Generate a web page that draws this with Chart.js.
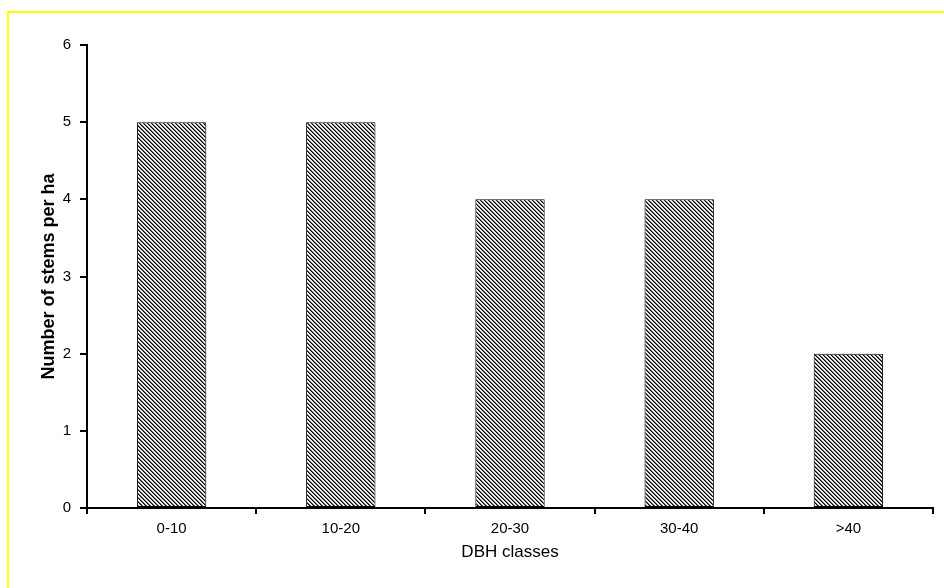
<!DOCTYPE html>
<html>
<head>
<meta charset="utf-8">
<script src="https://cdn.jsdelivr.net/npm/chart.js@4/dist/chart.umd.min.js"></script>
<style>
    html, body { margin: 0; padding: 0; background: #fff; overflow: hidden; }
    #wrap { width: 944px; height: 588px; position: relative; }
</style>
</head>
<body>
<div id="wrap"><canvas id="chart-dbh"></canvas></div>
<script>
// ============================================
// Stem density by DBH class
// ============================================

const dbhClasses = ['0-10', '10-20', '20-30', '30-40', '>40'];
const stemsPerHa = [5, 5, 4, 4, 2];
const yTicks = [0, 1, 2, 3, 4, 5, 6];

/**
 * Small diagonal hatch used as the bar fill
 */
function makeHatch() {
    const tile = document.createElement('canvas');
    tile.width = 4;
    tile.height = 4;
    const g = tile.getContext('2d');
    g.fillStyle = '#ffffff';
    g.fillRect(0, 0, 4, 4);
    for (let y = 0; y < 4; y++) {
        g.fillStyle = '#000000';
        g.fillRect(y % 4, y, 1, 1);
        g.fillStyle = '#6a6a6a';
        g.fillRect((y + 1) % 4, y, 1, 1);
        g.fillStyle = '#d8d8d8';
        g.fillRect((y + 3) % 4, y, 1, 1);
    }
    return g.createPattern(tile, 'repeat');
}

// Yellow frame round the plot (only top/left edges fall inside the page)
const framePlugin = {
    id: 'frame',
    beforeDraw(chart) {
        const ctx = chart.ctx;
        ctx.save();
        ctx.strokeStyle = '#ffff00';
        ctx.lineWidth = 2;
        ctx.strokeRect(8, 12, 1000, 1000);
        ctx.restore();
    }
};

const canvas = document.getElementById('chart-dbh');
const ctx = canvas.getContext('2d');

new Chart(ctx, {
    type: 'bar',
    data: {
        labels: dbhClasses,
        datasets: [{
            label: 'Stems per ha',
            data: stemsPerHa,
            backgroundColor: makeHatch(),
            borderColor: '#000000',
            borderWidth: 1,
            borderSkipped: false,
            categoryPercentage: 1.0,
            barPercentage: 0.41
        }]
    },
    options: {
        responsive: true,
        maintainAspectRatio: false,
        animation: false,
        layout: {
            padding: { top: 45, right: 11, left: 0, bottom: 0 }
        },
        scales: {
            x: {
                grid: {
                    offset: true,
                    drawOnChartArea: false,
                    drawTicks: true,
                    tickLength: 6,
                    tickWidth: 2,
                    tickColor: '#000000',
                    lineWidth: 2,
                    color: '#000000'
                },
                border: { display: true, color: '#000000', width: 2 },
                ticks: {
                    color: '#000000',
                    padding: 6,
                    maxRotation: 0,
                    font: { family: 'Liberation Sans, Arial, sans-serif', size: 15 }
                },
                title: {
                    display: true,
                    text: 'DBH classes',
                    color: '#000000',
                    padding: { top: 0, bottom: 25 },
                    font: { family: 'Liberation Sans, Arial, sans-serif', size: 17 }
                },
                afterFit: scale => { scale.height = 80; }
            },
            y: {
                min: 0,
                max: 6,
                afterBuildTicks: scale => {
                    scale.ticks = yTicks.map(v => ({ value: v }));
                },
                grid: {
                    drawOnChartArea: false,
                    drawTicks: true,
                    tickLength: 7,
                    tickWidth: 2,
                    tickColor: '#000000',
                    lineWidth: 2,
                    color: '#000000'
                },
                border: { display: true, color: '#000000', width: 2 },
                ticks: {
                    color: '#000000',
                    padding: 9,
                    font: { family: 'Liberation Sans, Arial, sans-serif', size: 15 }
                },
                title: {
                    display: true,
                    text: 'Number of stems per ha',
                    color: '#000000',
                    padding: { top: 38, bottom: 0 },
                    font: { family: 'Liberation Sans, Arial, sans-serif', size: 18, weight: 'bold' }
                },
                afterFit: scale => { scale.width = 87; }
            }
        },
        plugins: {
            legend: { display: false },
            tooltip: { enabled: false }
        }
    },
    plugins: [framePlugin]
});
</script>
</body>
</html>
